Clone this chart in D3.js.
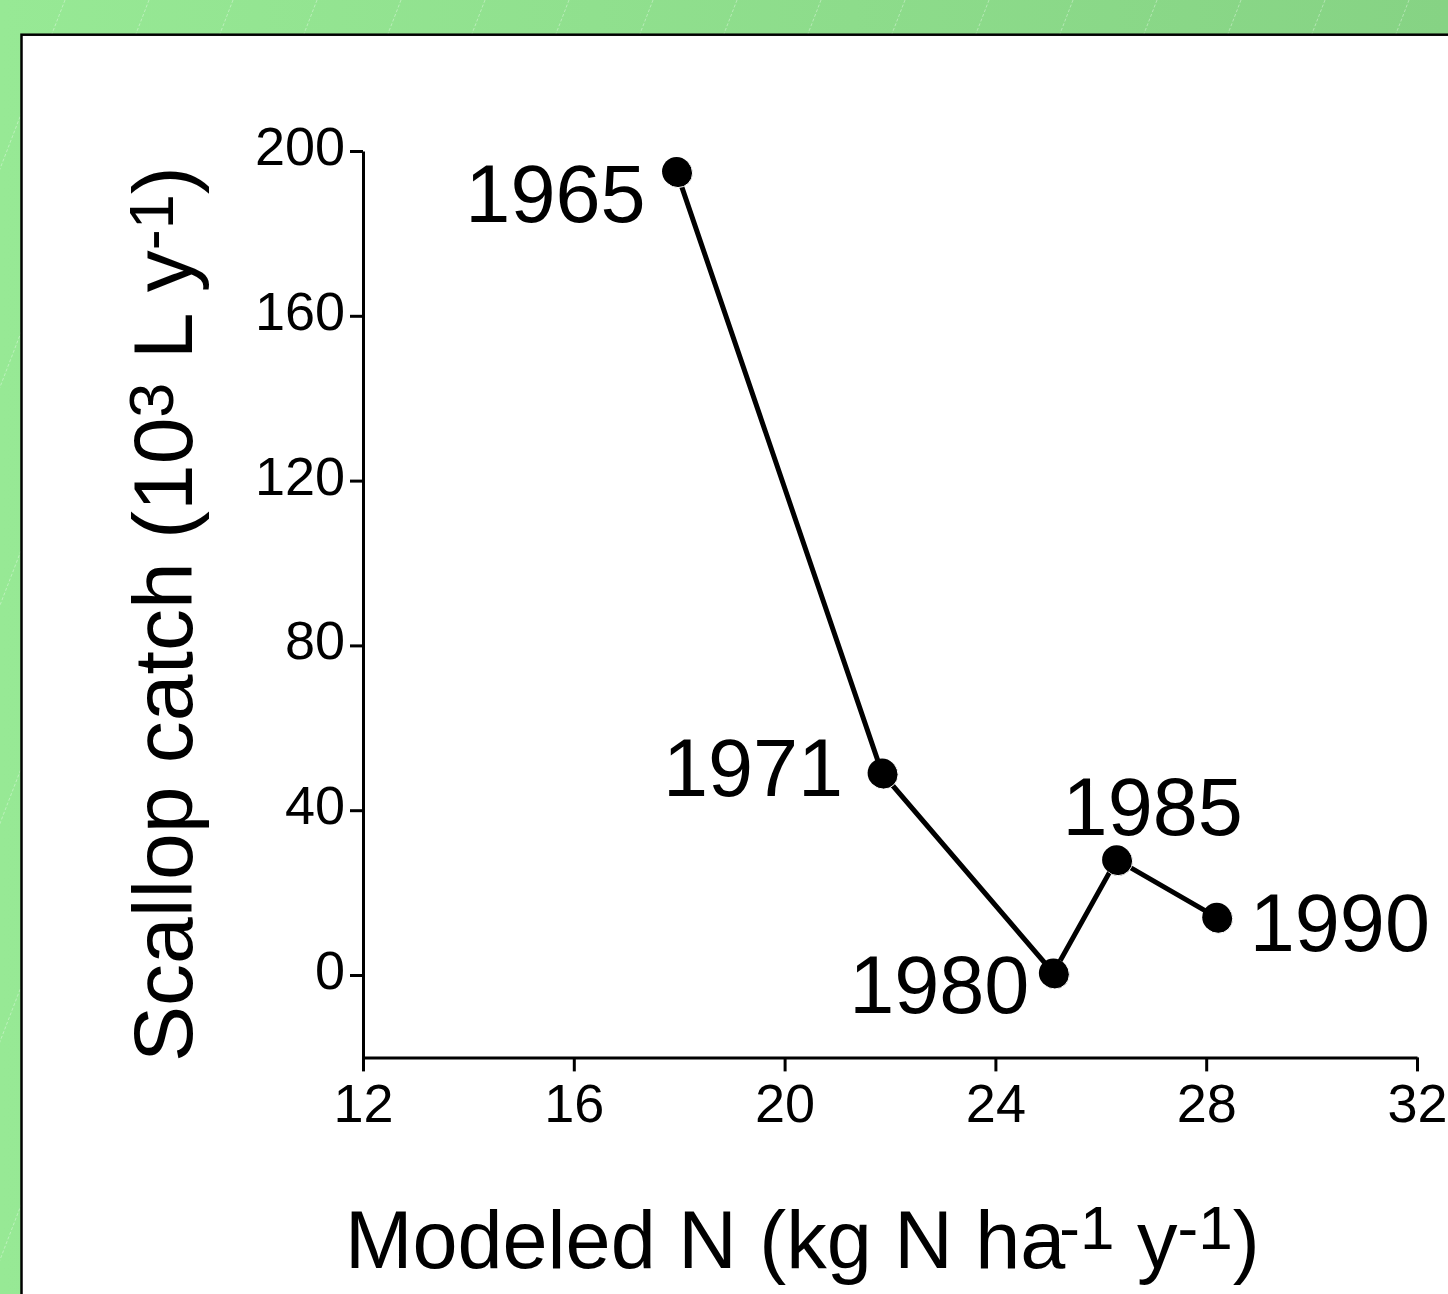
<!DOCTYPE html>
<html>
<head>
<meta charset="utf-8">
<script src="https://cdn.jsdelivr.net/npm/d3@7"></script>
<style>
  html, body { margin: 0; padding: 0; overflow: hidden; }
  svg { display: block; font-family: "Liberation Sans", Arial, sans-serif; }
</style>
</head>
<body>
<svg id="chart"></svg>
<script>
// Data
const years = [1965, 1971, 1980, 1985, 1990];
const modeledN = [17.95, 21.85, 25.1, 26.3, 28.2];
const scallopCatch = [195, 49, 0.5, 28, 14];
const xTicks = [12, 16, 20, 24, 28, 32];
const yTicks = [0, 40, 80, 120, 160, 200];

// where each year label sits relative to its point (style only)
const labelPlace = {
  1965: { anchor: "end", dx: -31, dy: 50 },
  1971: { anchor: "end", dx: -39, dy: 23 },
  1980: { anchor: "end", dx: -24, dy: 40 },
  1985: { anchor: "start", dx: -54, dy: -25 },
  1990: { anchor: "start", dx: 33, dy: 34 }
};

const width = 1448, height = 1294;
const svg = d3.select("#chart").attr("width", width).attr("height", height);

// green background with faint dashed diagonals
const defs = svg.append("defs");
const grad = defs.append("linearGradient").attr("id", "bg").attr("x1", 0).attr("x2", 1).attr("y1", 0).attr("y2", 0);
grad.append("stop").attr("offset", 0).attr("stop-color", "#97e995");
grad.append("stop").attr("offset", 1).attr("stop-color", "#86d384");
svg.append("rect").attr("width", width).attr("height", height).attr("fill", "url(#bg)");

const slope = 0.385;
svg.append("g")
  .selectAll("line")
  .data(d3.range(-8, 22))
  .join("line")
  .attr("x1", k => 65 + k * 84)
  .attr("y1", 0)
  .attr("x2", k => 65 + k * 84 - slope * height)
  .attr("y2", height)
  .attr("stroke", "#ffffff")
  .attr("stroke-opacity", 0.35)
  .attr("stroke-width", 1)
  .attr("stroke-dasharray", "3,2");

// white panel
svg.append("rect")
  .attr("x", 21.5).attr("y", 34.7)
  .attr("width", 2000).attr("height", 2000)
  .attr("fill", "#fff")
  .attr("stroke", "#000")
  .attr("stroke-width", 2.5);

// scales
const x = d3.scaleLinear().domain([12, 32]).range([363, 1417]);
const y = d3.scaleLinear().domain([0, 200]).range([975, 151]);
const y0 = y(-20);

// axes
const xAxis = svg.append("g")
  .attr("transform", `translate(0,${y0})`)
  .call(d3.axisBottom(x).tickValues(xTicks).tickSize(14).tickSizeOuter(0).tickPadding(12));
const yAxis = svg.append("g")
  .attr("transform", `translate(${x(12)},0)`)
  .call(d3.axisLeft(y.copy().domain([-20, 200]).range([y0, y(200)]))
    .tickValues(yTicks).tickSize(13).tickSizeOuter(0).tickPadding(5));

[xAxis, yAxis].forEach(a => {
  a.select(".domain").attr("stroke-width", 3);
  a.selectAll(".tick line").attr("stroke-width", 3);
  a.selectAll("text").attr("font-family", "Liberation Sans, Arial, sans-serif")
    .attr("font-size", 54).attr("fill", "#000");
});
yAxis.selectAll("text").attr("dy", "0.25em");

// line + points
const pts = years.map((yr, i) => ({ year: yr, n: modeledN[i], c: scallopCatch[i] }));

svg.append("path")
  .datum(pts)
  .attr("fill", "none")
  .attr("stroke", "#000")
  .attr("stroke-width", 5)
  .attr("d", d3.line().x(d => x(d.n)).y(d => y(d.c)));

const pg = svg.append("g").selectAll("g").data(pts).join("g")
  .attr("transform", d => `translate(${x(d.n)},${y(d.c)})`);
pg.append("circle").attr("cx", 1.5).attr("cy", 1.5).attr("r", 14.5)
  .attr("fill", "#000").attr("stroke", "#fff").attr("stroke-width", 1);
pg.append("circle").attr("r", 14.5).attr("fill", "#000");

// year labels
svg.append("g").selectAll("text").data(pts).join("text")
  .attr("x", d => x(d.n) + labelPlace[d.year].dx)
  .attr("y", d => y(d.c) + labelPlace[d.year].dy)
  .attr("text-anchor", d => labelPlace[d.year].anchor)
  .attr("font-size", 81)
  .text(d => d.year);

// axis titles
const xt = svg.append("text")
  .attr("x", 345).attr("y", 1268)
  .attr("font-size", 81);
xt.append("tspan").text("Modeled N (kg N ha");
xt.append("tspan").attr("font-size", 62).attr("dy", -19).attr("dx", -6).text("-1");
xt.append("tspan").attr("dy", 19).text(" y");
xt.append("tspan").attr("font-size", 62).attr("dy", -19).text("-1");
xt.append("tspan").attr("dy", 19).text(")");

const yt = svg.append("text")
  .attr("transform", "translate(192,1062) rotate(-90)")
  .attr("font-size", 84);
yt.append("tspan").text("Scallop catch (10");
yt.append("tspan").attr("font-size", 63).attr("dy", -19).text("3");
yt.append("tspan").attr("dy", 19).text(" L y");
yt.append("tspan").attr("font-size", 63).attr("dy", -19).text("-1");
yt.append("tspan").attr("dy", 19).text(")");
</script>
</body>
</html>
